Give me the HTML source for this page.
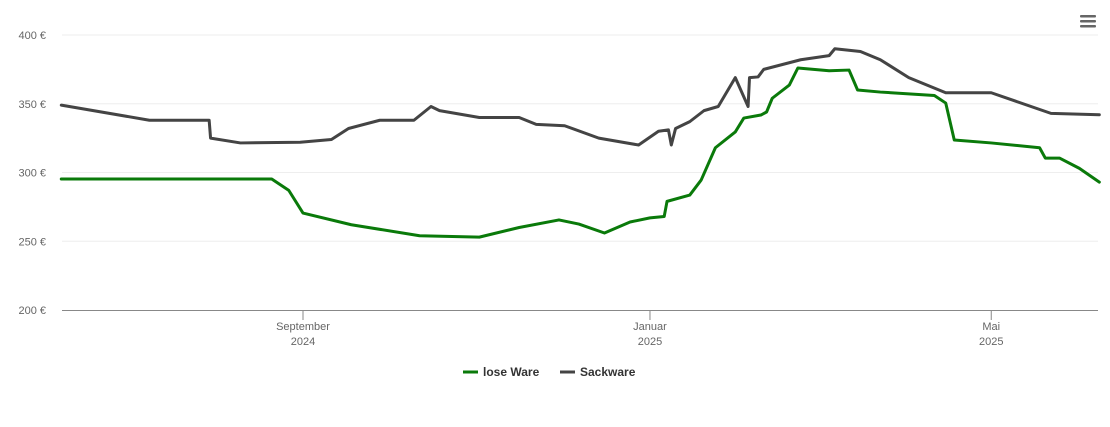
<!DOCTYPE html>
<html><head><meta charset="utf-8"><style>
body{margin:0;background:#fff;font-family:"Liberation Sans",sans-serif}
svg text{font-family:"Liberation Sans",sans-serif}
</style></head><body>
<svg width="1110" height="422" id="c">
<g id="grid"></g><g id="series"></g>
<g fill="#666">
<rect x="1080" y="15" width="16" height="2.5" rx="1"/><rect x="1080" y="20" width="16" height="2.5" rx="1"/><rect x="1080" y="25" width="16" height="2.5" rx="1"/></g>
<g font-size="12" font-weight="bold" fill="#333">
<g><line x1="463" y1="372" x2="478" y2="372" stroke="#0a7a0a" stroke-width="3"/><text x="483" y="376">lose Ware</text></g>
<g><line x1="560" y1="372" x2="575" y2="372" stroke="#444" stroke-width="3"/><text x="580" y="376">Sackware</text></g>
</g>
</svg>
<script>
const yTicks=[200,250,300,350,400];
const xTickDays=[0,122,242];
const xTickLabels=[["September","2024"],["Januar","2025"],["Mai","2025"]];
const greenDays=[-85,-11,-5,0,17,41,62,76,90,97,106,115,122,127,128,136,140,145,152,155,161,163,165,171,174,185,192,195,203,222,226,229,242,259,261,266,273,280];
const greenVals=[295.3,295.3,287,270.5,262,254,253,260,265.5,262.5,256,264,267,268,279,283.6,294.5,318,329.5,339.6,341.8,344,354,363.6,376,374,374.5,360,358.5,356,350.5,323.6,321.5,318,310.5,310.5,303,293];
const grayDays=[-85,-54,-33,-32.5,-22,-1,10,16,27,39,45,48,62,76,82,92,104,118,125,128.5,129.5,131,136,141,146,152,156.5,157,160,162,175,185,187,196,203,213,226,242,263,280];
const grayVals=[349,338,338,325,321.5,322,324,332,338,338,348,345,340,340,335,334,325,320,330,331,320,332,337,345,348,369,348,369,369.5,375,382,385,390,388,382,369,358,358,343,342];
const NS="http://www.w3.org/2000/svg";
const X=d=>303+d*2.844, Y=v=>310-(v-200)*1.375;
const grid=document.getElementById('grid'), ser=document.getElementById('series');
function mk(tag,attrs,parent){const e=document.createElementNS(NS,tag);for(const k in attrs)e.setAttribute(k,attrs[k]);parent.appendChild(e);return e;}
yTicks.forEach(v=>{
 if(v>200){const l=mk('line',{x1:62,x2:1098,y1:Y(v),y2:Y(v),stroke:'#eee','stroke-width':1},grid);
 
 }
 const t=mk('text',{x:46,y:Y(v)+4,'text-anchor':'end','font-size':11,fill:'#666'},grid);t.textContent=v+' €';
 
 
});
const ax=mk('line',{x1:62,x2:1098,y1:310.5,y2:310.5,stroke:'#888','stroke-width':1},grid);


xTickDays.forEach((d,i)=>{
 mk('line',{x1:X(d),x2:X(d),y1:310,y2:320,stroke:'#888'},grid);
 const t=mk('text',{x:X(d),y:330,'text-anchor':'middle','font-size':11,fill:'#666'},grid);
 
 
 mk('tspan',{x:X(d),dy:0},t).textContent=xTickLabels[i][0];
 mk('tspan',{x:X(d),dy:15},t).textContent=xTickLabels[i][1];
});
function line(days,vals,color,name){
 const p=mk('polyline',{points:days.map((d,i)=>X(d)+','+Y(vals[i])).join(' '),fill:'none',stroke:color,'stroke-width':3,'stroke-linejoin':'round','stroke-linecap':'round'},ser);
 
 
}
line(grayDays,grayVals,'#444','series-sackware');
line(greenDays,greenVals,'#0a7a0a','series-lose-ware');
</script>
</body></html>
